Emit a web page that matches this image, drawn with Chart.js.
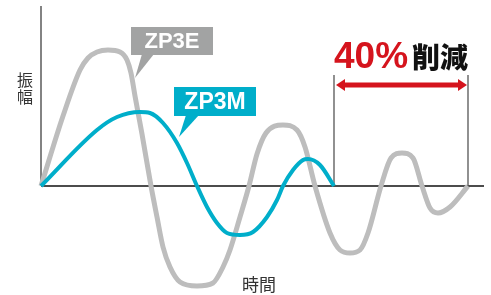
<!DOCTYPE html>
<html>
<head>
<meta charset="utf-8">
<script src="https://cdn.jsdelivr.net/npm/chart.js@4"></script>
<style>
  body { margin: 0; background: #fff; }
  #wrap { width: 491px; height: 295px; }
</style>
</head>
<body>
<div id="wrap"><canvas id="vibChart" width="491" height="295"></canvas></div>
<script>
// Amplitude over time (time and amplitude both, arbitrary units)
const grayName = "ZP3E";
const grayTime = [41, 63, 80, 88, 97, 108, 120, 127, 131, 135, 142, 151, 157, 163, 170, 180, 197, 213, 223, 230, 240, 249, 257, 266, 283, 297, 305, 315, 330, 340, 350, 360, 368, 381, 391, 402, 413, 422, 430, 438, 450, 468];
const grayAmp  = [0, 70, 116, 128, 134, 136, 134, 126, 113, 90, 52, 0, -31, -61, -81, -96, -100, -97, -81, -64, -31, 0, 32, 53, 61, 56, 39, 0, -47, -64, -67, -64, -47, 0, 28, 33, 28, 0, -22, -27, -21, 0];

const tealName = "ZP3M";
const tealTime = [41, 97, 117, 140, 150, 163, 177, 187, 197, 207, 217, 227, 240, 253, 267, 277, 283, 293, 303, 308, 320, 334];
const tealAmp  = [0, 56, 69, 74, 73, 63, 43, 23, 0, -21, -37, -47, -49, -46, -31, -14, 0, 16, 26, 27, 21, 0];

const axisLabels = { y: "振幅", x: "時間" };
const reductionLabel = ["40%", "削減"];

// scale ranges
const timeMin = 0, timeMax = 491;
const ampMin = -109, ampMax = 186;

const toPoints = (t, a) => t.map((v, i) => ({ x: v, y: a[i] }));

const decor = {
  id: "decor",
  beforeDatasetsDraw(chart) {
    const c = chart.ctx;
    const x = chart.scales.x, y = chart.scales.y;
    const x0 = x.getPixelForValue(grayTime[0]);
    const y0 = y.getPixelForValue(0);
    c.save();
    // y axis
    c.strokeStyle = "#5a5a5a";
    c.lineWidth = 1.5;
    c.beginPath();
    c.moveTo(x0, y.getPixelForValue(180));
    c.lineTo(x0, y0);
    c.stroke();
    // x axis
    c.strokeStyle = "#111";
    c.beginPath();
    c.moveTo(x0, y0);
    c.lineTo(x.getPixelForValue(484), y0);
    c.stroke();
    // markers at the ends of both curves
    c.strokeStyle = "#555";
    c.lineWidth = 1.3;
    [tealTime[tealTime.length - 1], grayTime[grayTime.length - 1]].forEach((t) => {
      const px = x.getPixelForValue(t);
      c.beginPath();
      c.moveTo(px, y.getPixelForValue(111));
      c.lineTo(px, y0);
      c.stroke();
    });
    c.restore();
  },
  afterDatasetsDraw(chart) {
    const c = chart.ctx;
    c.save();
    // axis titles
    c.fillStyle = "#333";
    c.font = "16px 'Noto Sans CJK JP'";
    c.textAlign = "center";
    c.textBaseline = "middle";
    c.fillText(axisLabels.y[0], 25, 80);
    c.fillText(axisLabels.y[1], 25, 97);
    c.font = "17px 'Noto Sans CJK JP'";
    c.fillText(axisLabels.x, 259, 285);

    // callouts
    function callout(text, color, bx, by, bw, bh, base1, base2, tip, fs) {
      c.fillStyle = color;
      c.fillRect(bx, by, bw, bh);
      c.beginPath();
      c.moveTo(base1, by + bh - 1);
      c.lineTo(base2, by + bh - 1);
      c.lineTo(tip[0], tip[1]);
      c.closePath();
      c.fill();
      c.fillStyle = "#fff";
      c.font = "bold " + fs + "px 'Liberation Sans'";
      c.textAlign = "center";
      c.textBaseline = "middle";
      c.fillText(text, bx + bw / 2, by + bh / 2 + 1);
    }
    callout(grayName, "#a2a3a3", 131, 27, 82, 28, 142, 154, [135, 78], 22);
    callout(tealName, "#00aeca", 174, 87, 82, 29, 186, 199, [179, 137], 23);

    // reduction label
    c.textAlign = "left";
    c.textBaseline = "alphabetic";
    c.fillStyle = "#d5141d";
    c.font = "bold 37px 'Liberation Sans'";
    c.fillText(reductionLabel[0], 334, 68);
    c.fillStyle = "#111";
    c.font = "900 28px 'Noto Sans CJK JP'";
    c.textBaseline = "middle";
    c.fillText(reductionLabel[1], 412, 57);

    // double arrow
    const ax1 = 336, ax2 = 467, ay = 85;
    c.fillStyle = "#d5141d";
    c.fillRect(ax1 + 6, ay - 2.5, ax2 - ax1 - 12, 5);
    c.beginPath();
    c.moveTo(ax1, ay);
    c.lineTo(ax1 + 9, ay - 6);
    c.lineTo(ax1 + 9, ay + 6);
    c.closePath();
    c.fill();
    c.beginPath();
    c.moveTo(ax2, ay);
    c.lineTo(ax2 - 9, ay - 6);
    c.lineTo(ax2 - 9, ay + 6);
    c.closePath();
    c.fill();
    c.restore();
  },
};

const ctx = document.getElementById("vibChart").getContext("2d");
const vibChart = new Chart(ctx, {
  type: "line",
  data: {
    datasets: [
      {
        label: tealName,
        data: toPoints(tealTime, tealAmp),
        borderColor: "#00aeca",
        borderWidth: 4,
        pointRadius: 0,
        cubicInterpolationMode: "monotone",
        fill: false,
      },
      {
        label: grayName,
        data: toPoints(grayTime, grayAmp),
        borderColor: "#bdbdbd",
        borderWidth: 5,
        pointRadius: 0,
        cubicInterpolationMode: "monotone",
        fill: false,
      },
    ],
  },
  options: {
    responsive: false,
    animation: false,
    layout: { padding: 0 },
    scales: {
      x: { type: "linear", min: timeMin, max: timeMax, display: false },
      y: { min: ampMin, max: ampMax, display: false },
    },
    plugins: {
      legend: { display: false },
      tooltip: { enabled: false },
    },
  },
  plugins: [decor],
});
</script>
</body>
</html>
